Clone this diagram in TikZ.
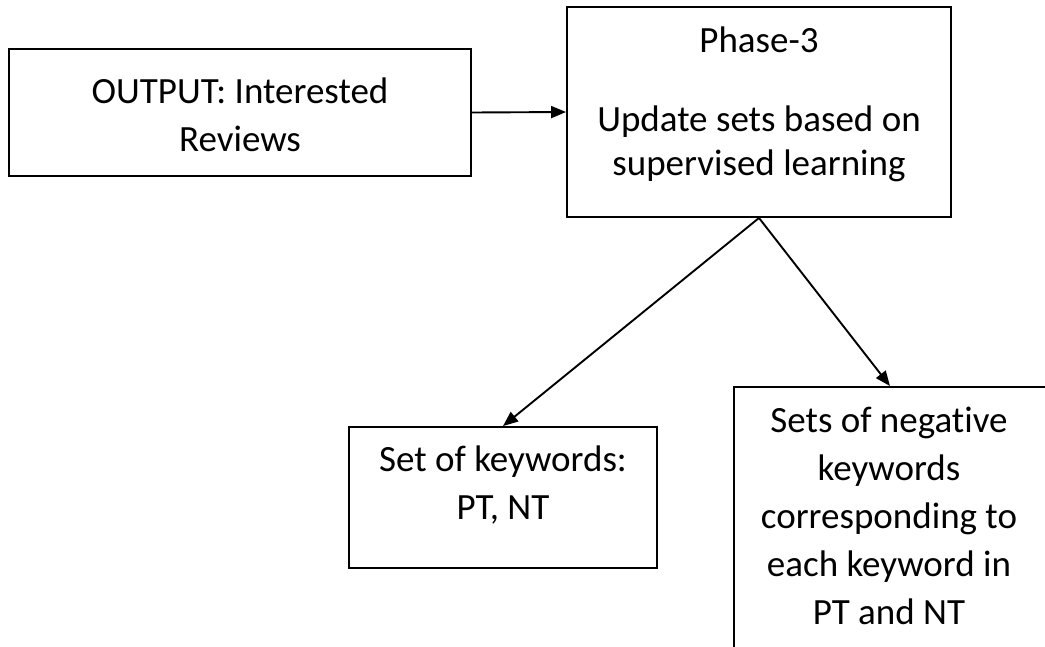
\documentclass[tikz,border=0pt]{standalone}
\usepackage{fontspec}
\setmainfont[Ligatures=NoCommon]{Carlito}
\usetikzlibrary{arrows.meta}
\tikzset{
  box/.style={draw, line width=1.9pt, inner sep=0pt, fill=white},
  txt/.style={font=\fontsize{37}{48}\selectfont, align=center, inner sep=0pt, anchor=base},
  conn/.style={line width=1.9pt, -{Triangle[length=15pt,width=12pt]}}
}
\begin{document}
\begin{tikzpicture}[x=1pt,y=-1pt]
\useasboundingbox[fill=white] (0,0) rectangle (1045,646);
\clip (0,0) rectangle (1045,646);
\node[box, minimum width=462pt, minimum height=127pt] (out) at (240,112.5) {};
\node[box, minimum width=384pt, minimum height=210pt] (ph) at (759,112) {};
\node[box, minimum width=308pt, minimum height=141pt] (kw) at (503,497.5) {};
\node[box, minimum width=312pt, minimum height=313pt] (neg) at (890,543.5) {};
\node[txt] (t1) at (240,151) {OUTPUT: Interested\\Reviews};
\node[txt] (t2a) at (759,52) {Phase-3};
\node[txt, font=\fontsize{37}{44}\selectfont] (t2) at (759,175) {Update sets based on\\supervised learning};
\node[txt] (t3) at (503,519) {Set of keywords:\\PT, NT};
\node[txt] (t4) at (889,624) {Sets of negative\\keywords\\corresponding to\\each keyword in\\PT and NT};
\draw[conn] (out.east) -- (ph.west);
\draw[conn] (ph.south) -- (kw.north);
\draw[conn] (ph.south) -- (neg.north);
\end{tikzpicture}
\end{document}
